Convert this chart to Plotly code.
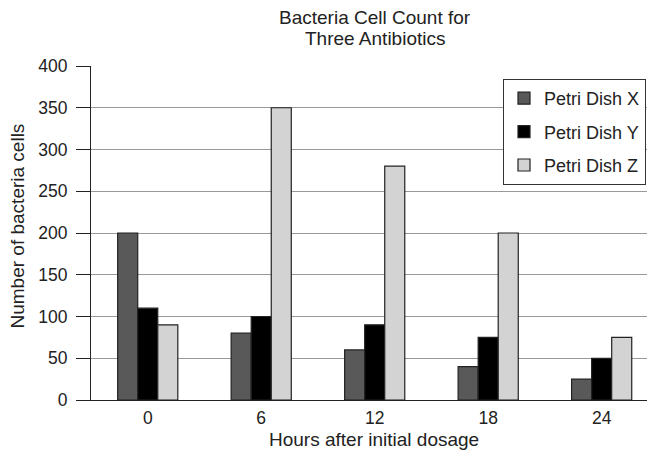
import plotly.graph_objects as go

hours = ["0", "6", "12", "18", "24"]
dish_x = [200, 80, 60, 40, 25]
dish_y = [110, 100, 90, 75, 50]
dish_z = [90, 350, 280, 200, 75]
series_names = ["Petri Dish X", "Petri Dish Y", "Petri Dish Z"]
colors = ["#595959", "#000000", "#d3d3d3"]

fig = go.Figure()
for name, vals, c in zip(series_names, [dish_x, dish_y, dish_z], colors):
    fig.add_trace(go.Bar(x=hours, y=vals, name=name, legendgroup=name,
                         marker=dict(color=c, line=dict(color="#222222", width=1.2))))

font = "Liberation Sans, Arial, sans-serif"
OFF = 8  # page body margin offset
W, H = 655 - OFF, 452 - OFF
L, R, T, B = 91 - OFF, 0, 66 - OFF, 52
PW, PH = W - L - R, H - T - B
TF = 19


def px_x(x):
    return (x - OFF - L) / PW


def px_y(y):
    return (H - B - (y - OFF)) / PH


fig.update_layout(
    width=W, height=H,
    margin=dict(l=L, r=R, t=T, b=B, autoexpand=False),
    paper_bgcolor="white", plot_bgcolor="white",
    font=dict(family=font, size=17.5, color="#222222"),
    barmode="group", bargap=0.47, bargroupgap=0,
    xaxis=dict(showline=True, linecolor="#222222", linewidth=1.2, ticks="", showgrid=False,
               type="category", range=[-0.5, 4.47], automargin=False, ticklabelstandoff=2),
    yaxis=dict(range=[0, 400], dtick=50, showline=True, linecolor="#222222", linewidth=1.2,
               ticks="outside", ticklen=14, tickcolor="#222222", gridcolor="#999999", gridwidth=1,
               zeroline=False, automargin=False, ticklabelstandoff=5),
    legend=dict(x=px_x(646), xanchor="right", y=px_y(79), yanchor="top", bgcolor="white",
                bordercolor="#333333", borderwidth=1, font=dict(size=18), tracegroupgap=7),
)
for text, ypix in [("Bacteria Cell Count for", 17.5), ("Three Antibiotics", 38.5)]:
    fig.add_annotation(text=text, xref="paper", yref="paper", x=px_x(375), y=px_y(ypix),
                       xanchor="center", yanchor="middle", showarrow=False, font=dict(size=TF))
fig.add_annotation(text="Hours after initial dosage", xref="paper", yref="paper",
                   x=px_x(374), y=px_y(439.5), xanchor="center", yanchor="middle",
                   showarrow=False, font=dict(size=TF))
fig.add_annotation(text="Number of bacteria cells", xref="paper", yref="paper",
                   x=px_x(16.5), y=px_y(226), xanchor="center", yanchor="middle",
                   textangle=-90, showarrow=False, font=dict(size=TF))
fig.write_html("out.html")
